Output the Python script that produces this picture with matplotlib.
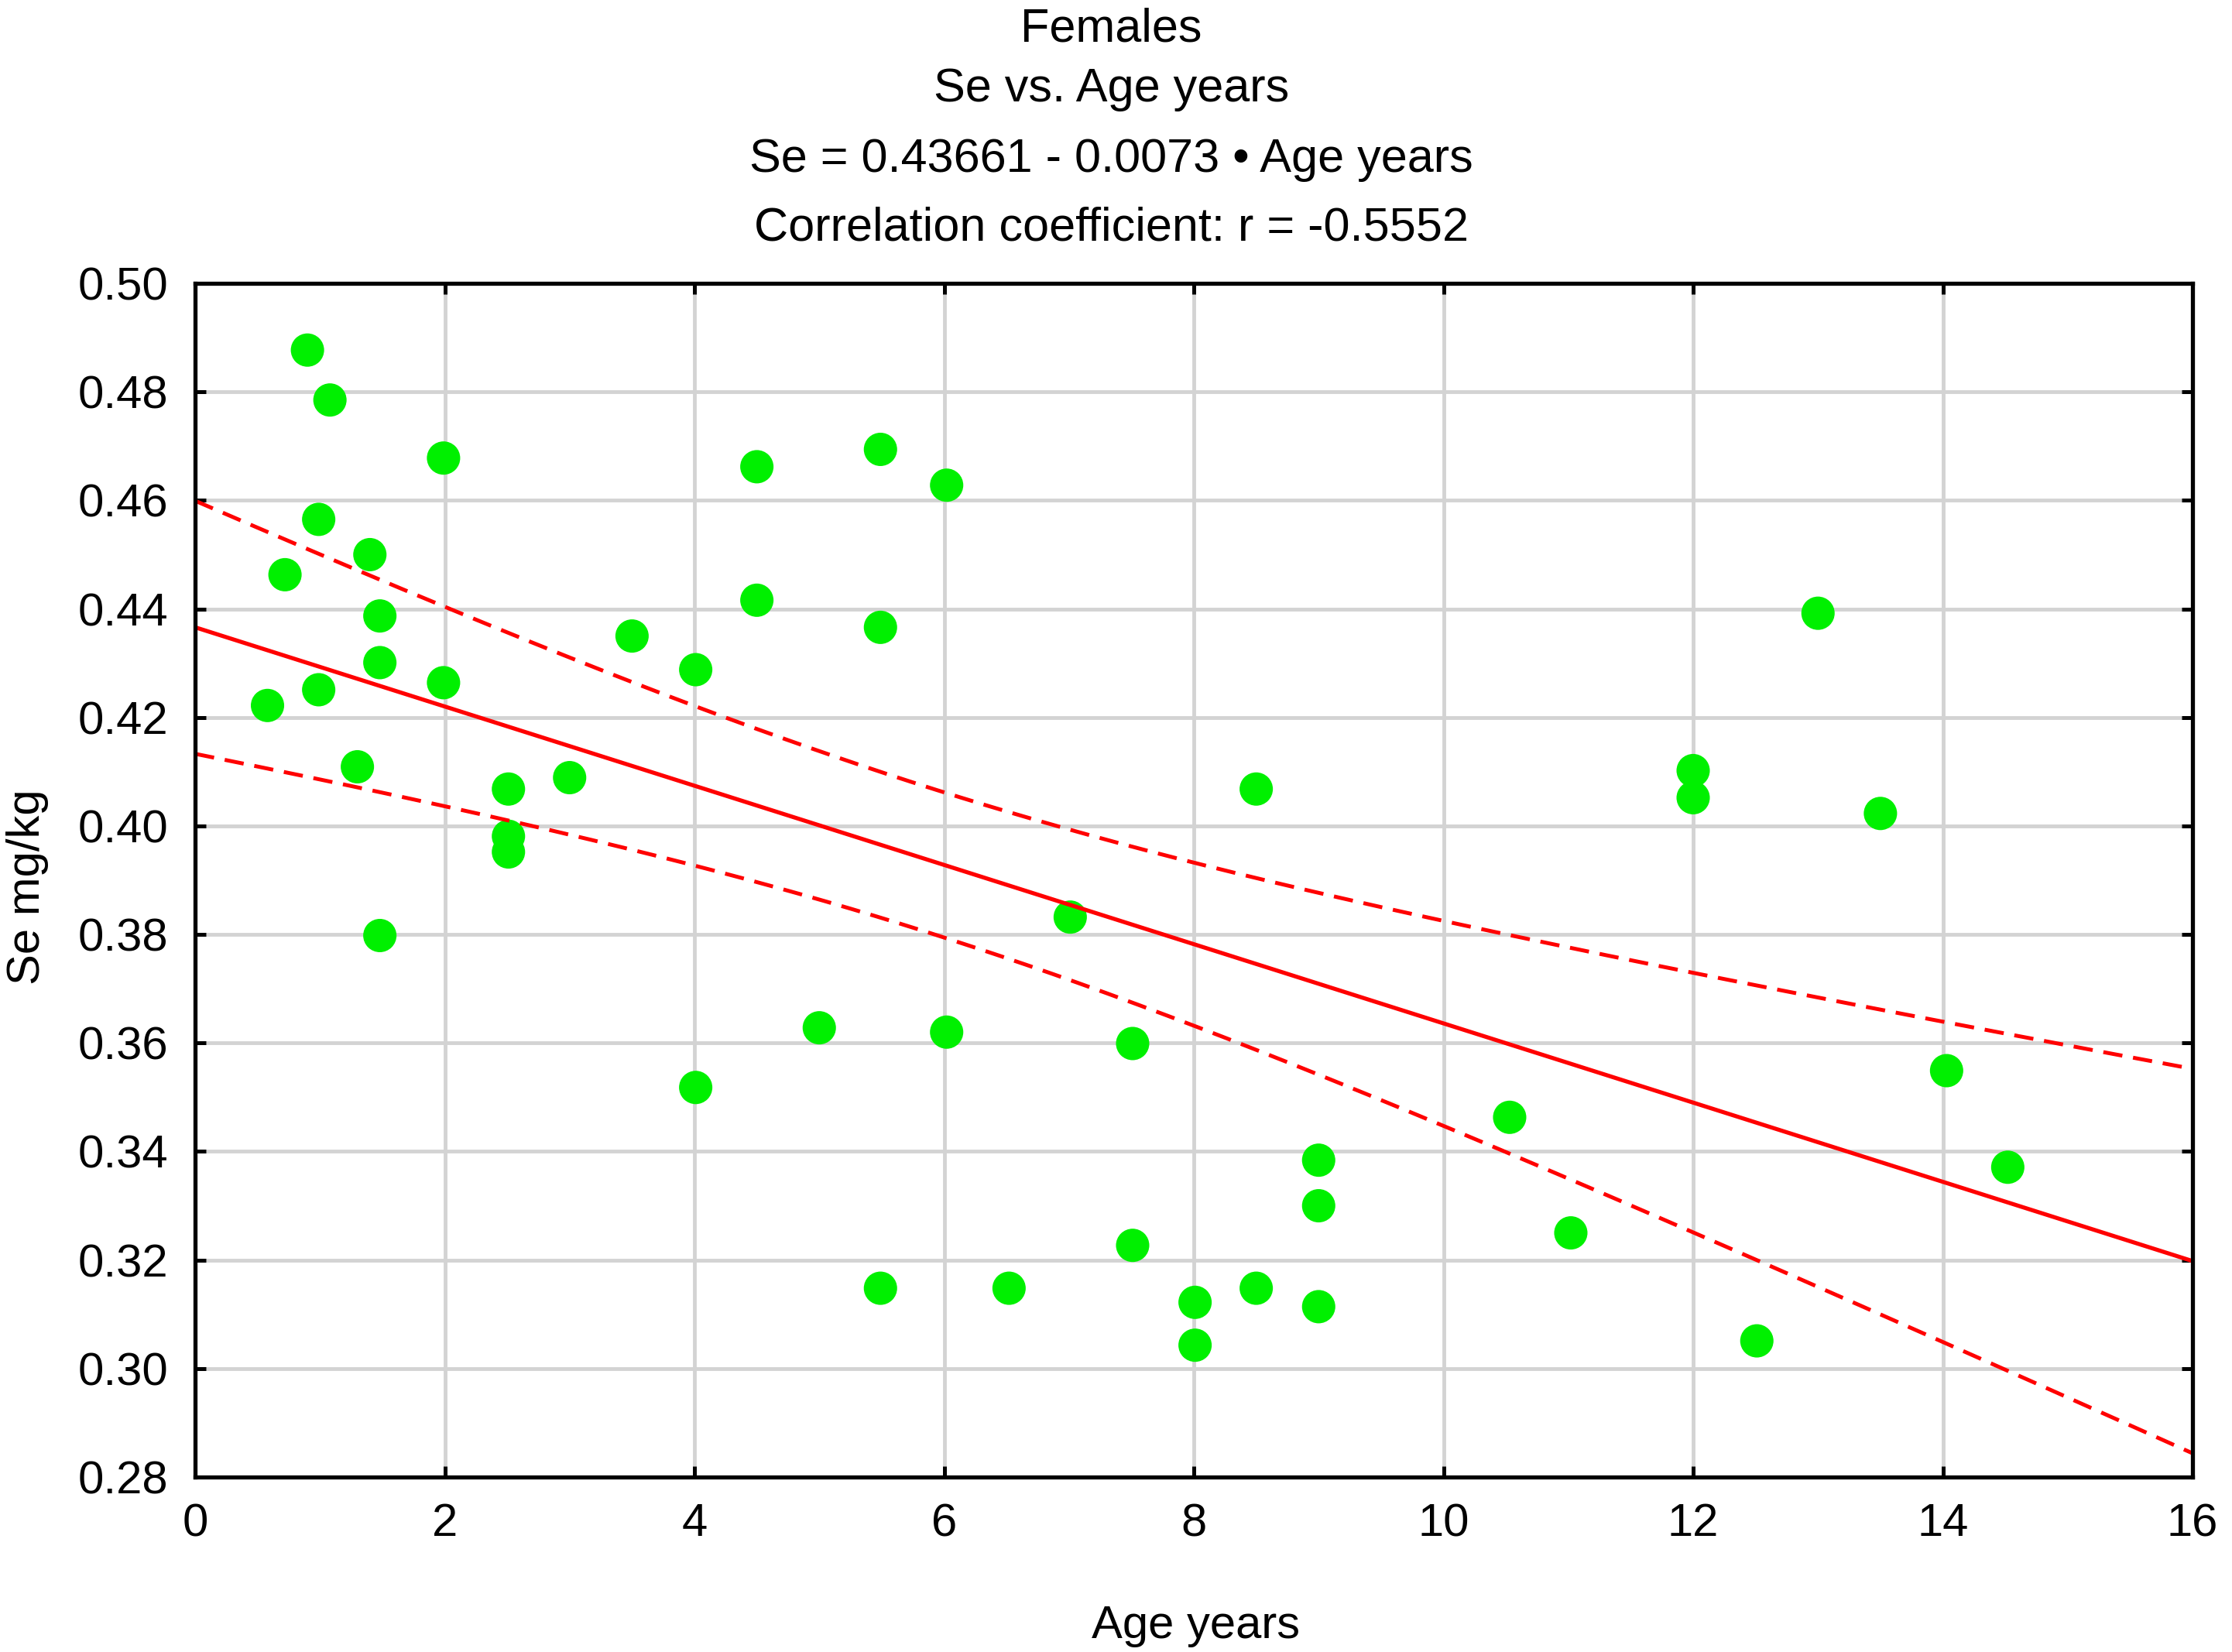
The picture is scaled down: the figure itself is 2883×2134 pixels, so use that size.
import numpy as np
import matplotlib
matplotlib.use("Agg")
import matplotlib.pyplot as plt

# Data
age_years = [0.90, 1.08, 1.99, 0.99, 0.72, 1.40, 1.48, 1.48, 0.99, 0.58,
             1.99, 1.30, 2.51, 2.51, 2.51, 1.48, 3.00, 3.50, 4.01, 4.01,
             4.50, 4.50, 5.00, 5.49, 5.49, 5.49, 6.02, 6.02, 6.52, 7.01,
             7.51, 7.51, 8.01, 8.01, 8.50, 8.50, 9.00, 9.00, 9.00, 10.53,
             11.02, 12.00, 12.00, 12.51, 13.00, 13.50, 14.03, 14.52]
se_mgkg = [0.4877, 0.4785, 0.4678, 0.4565, 0.4463, 0.4500, 0.4387, 0.4301, 0.4251, 0.4222,
           0.4264, 0.4109, 0.4068, 0.3981, 0.3952, 0.3798, 0.4089, 0.4350, 0.4288, 0.3518,
           0.4662, 0.4416, 0.3628, 0.4694, 0.4366, 0.3148, 0.4628, 0.3620, 0.3148, 0.3832,
           0.3599, 0.3227, 0.3122, 0.3043, 0.4068, 0.3148, 0.3384, 0.3300, 0.3114, 0.3463,
           0.3250, 0.4102, 0.4052, 0.3051, 0.4392, 0.4023, 0.3549, 0.3371]
intercept = 0.43661
slope = -0.0073
t_crit = 2.0129  # 95%, df = 46

title_lines = ["Females", "Se vs. Age years",
               "Se = 0.43661 - 0.0073 \u2022 Age years",
               "Correlation coefficient: r = -0.5552"]
x_ticks = list(range(0, 17, 2))
y_ticks = [0.28, 0.30, 0.32, 0.34, 0.36, 0.38, 0.40, 0.42, 0.44, 0.46, 0.48, 0.50]

plt.rcParams['font.family'] = ['Liberation Sans', 'DejaVu Sans']

W, H = 2883, 2134
fig = plt.figure(figsize=(W / 100, H / 100), dpi=100)
ax = fig.add_axes([252 / W, 1 - 1908 / H, (2832 - 252) / W, (1908 - 366) / H])

x = np.array(age_years)
y = np.array(se_mgkg)
n = len(x)
xs = np.linspace(0, 16, 400)
fit = intercept + slope * xs
resid = y - (intercept + slope * x)
s = np.sqrt(np.sum(resid ** 2) / (n - 2))
sxx = np.sum((x - x.mean()) ** 2)
half = t_crit * s * np.sqrt(1.0 / n + (xs - x.mean()) ** 2 / sxx)

ax.grid(True, color='#d3d3d3', linewidth=3.5, zorder=0)
ax.scatter(x, y, s=960, color='#00f000', edgecolors='none', zorder=3)
ax.plot(xs, fit, color='#ff0000', linewidth=3.8, zorder=4)
ax.plot(xs, fit + half, color='#ff0000', linewidth=3.6, dashes=(5, 2.8), zorder=4)
ax.plot(xs, fit - half, color='#ff0000', linewidth=3.6, dashes=(5, 2.8), zorder=4)

ax.set_xlim(0, 16)
ax.set_ylim(0.28, 0.50)
ax.set_xticks(x_ticks)
ax.set_xticklabels([str(v) for v in x_ticks])
ax.set_yticks(y_ticks)
ax.set_yticklabels([f"{v:.2f}" for v in y_ticks])
ax.tick_params(direction='in', length=10, width=3.6, labelsize=43,
               top=True, right=True)
ax.tick_params(axis='x', pad=24)
ax.tick_params(axis='y', pad=25)
for sp in ax.spines.values():
    sp.set_linewidth(3.8)
    sp.set_zorder(5)

title_y = [38, 116, 206, 295]
for txt, py in zip(title_lines, title_y):
    fig.text(0.498, 1 - py / H, txt, ha='center', va='center', fontsize=44)

fig.text(1545 / W, 1 - 2101 / H, "Age years", ha='center', va='center', fontsize=43)
fig.text(36 / W, 1 - 1146 / H, "Se mg/kg", ha='center', va='center',
         rotation=90, fontsize=43)

fig.savefig("out.png", dpi=100)
